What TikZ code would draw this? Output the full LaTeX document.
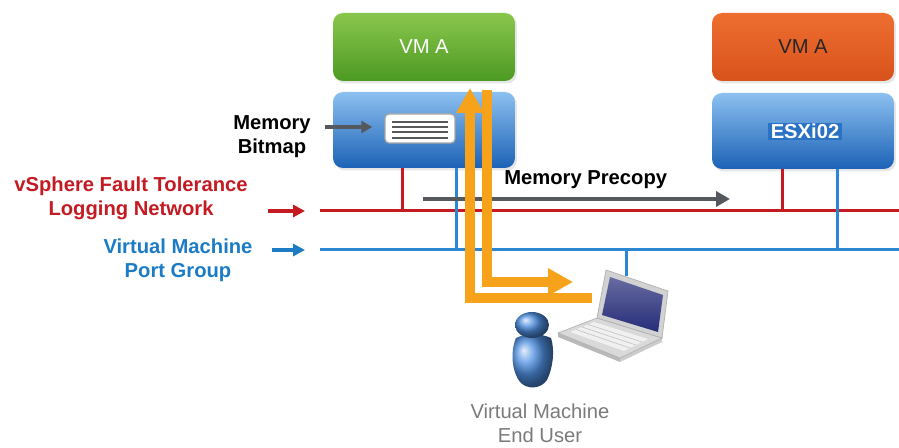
\documentclass[tikz,border=0pt]{standalone}
\usepackage{fontspec}
\setmainfont{Liberation Sans}
\usetikzlibrary{arrows.meta,positioning,calc,shadows}
\definecolor{ftred}{HTML}{C41A22}
\definecolor{pgblue}{HTML}{1B7BC4}
\definecolor{netblue}{HTML}{2B87D1}
\definecolor{greenlt}{HTML}{8AC64E}
\definecolor{greendk}{HTML}{4C9A22}
\definecolor{orangelt}{HTML}{EE6E30}
\definecolor{orangedk}{HTML}{D8521C}
\definecolor{hostlt}{HTML}{8CC0F0}
\definecolor{hostmid}{HTML}{3A86D6}
\definecolor{hostdk}{HTML}{1C62B6}
\definecolor{esxbg}{HTML}{2A72C4}
\definecolor{flow}{HTML}{F7A21B}
\definecolor{darkgray}{HTML}{55585C}
\definecolor{usergray}{HTML}{7A7A7A}
\definecolor{personblue}{HTML}{4F90E2}
\definecolor{screenblue}{HTML}{262C78}

\begin{document}
\begin{tikzpicture}[
  x=0.02cm,y=-0.02cm,
  every node/.style={font=\fontsize{11.5}{13.6}\selectfont},
  vmbox/.style={rounded corners=0.2cm,minimum width=3.64cm,minimum height=1.36cm,
    drop shadow={opacity=0.2,shadow xshift=0.04cm,shadow yshift=-0.05cm}},
  hostbox/.style={rounded corners=0.2cm,minimum width=3.64cm,minimum height=1.52cm,
    top color=hostlt,middle color=hostmid,bottom color=hostdk,
    drop shadow={opacity=0.2,shadow xshift=0.04cm,shadow yshift=-0.05cm}},
  bitmapbox/.style={draw=gray!70,fill=white,rounded corners=0.08cm,line width=0.8pt,
    minimum width=1.4cm,minimum height=0.58cm},
  bitline/.style={gray!70!black,line width=1.5pt},
  ftnet/.style={ftred,line width=0.06cm},
  pgnet/.style={netblue,line width=0.06cm},
  netarr/.style={-{Triangle[length=0.24cm,width=0.24cm]},line width=0.08cm,shorten >=0.3cm},
  grayarr/.style={darkgray,-{Triangle[length=0.28cm,width=0.3cm]},line width=0.09cm},
  flowarr/.style={flow,-{Triangle[length=0.5cm,width=0.52cm]},line width=0.2cm},
  lbl/.style={font=\fontsize{11.5}{13.6}\selectfont\bfseries,align=center}
]
\useasboundingbox (0,0) rectangle (899,448);

% virtual machines and hosts
\node[vmbox,top color=greenlt,bottom color=greendk,text=white] (vma) at (424,47) {VM A};
\node[hostbox] (hosta) at (424,130) {};
\node[vmbox,top color=orangelt,bottom color=orangedk,text=black!85] (vmb) at (803,47) {VM A};
\node[hostbox] (hostb) at (803,131) {};
\node[lbl,text=white,fill=esxbg,minimum width=1.48cm,minimum height=0.34cm,inner sep=0pt] (esx) at (805,131.5) {ESXi02};

% memory bitmap icon
\node[bitmapbox] (bitmap) at (420,128.5) {};
\foreach \dy in {-6.5,-1.5,3.5,9.5}
  \draw[bitline] ($(bitmap.center)+(-28,\dy)$) -- ++(56,0);
\node[lbl] (bitlab) at (272,137) {Memory\\Bitmap};
\coordinate (bitin) at (325,127);
\draw[grayarr,line width=0.07cm,-{Triangle[length=0.22cm,width=0.24cm]}] (bitin) -- ([xshift=-0.24cm]bitmap.west |- bitin);

% networks
\coordinate (ftw) at (320,211);
\coordinate (fte) at (899,211);
\coordinate (pgw) at (320,250);
\coordinate (pge) at (899,250);
\coordinate (fta) at (402,211);
\coordinate (ftb) at (782,211);
\coordinate (pga) at (456,250);
\coordinate (pgb) at (837,250);
\coordinate (pgu) at (626,250);
\coordinate (laptop) at (626,276);
\draw[ftnet] (ftw) -- (fte);
\draw[pgnet] (pgw) -- (pge);
\draw[ftnet] (hosta.south -| fta) -- (fta);
\draw[ftnet] (hostb.south -| ftb) -- (ftb);
\draw[pgnet] (hosta.south -| pga) -- (pga);
\draw[pgnet] (hostb.south -| pgb) -- (pgb);
\draw[pgnet] (pgu) -- (laptop);

% network labels
\node[lbl,text=ftred] (ftlab) at (131,198) {vSphere Fault Tolerance\\Logging Network};
\node[lbl,text=pgblue] (pglab) at (178,260) {Virtual Machine\\Port Group};
\coordinate (ftin) at (268,211);
\coordinate (pgin) at (272,250);
\draw[netarr,ftred] (ftin) -- (ftw);
\draw[netarr,pgblue] (pgin) -- (pgw);

% memory precopy
\coordinate (pcs) at (423,199);
\coordinate (pce) at (730,199);
\draw[grayarr] (pcs) -- node[lbl,above=1pt,pos=0.53,text=black] (pclab) {Memory Precopy} (pce);

% client traffic
\coordinate (vmain) at (470,88);
\coordinate (vmaout) at (487,90);
\coordinate (userin) at (592,298);
\coordinate (userout) at (573,282);
\draw[flowarr] (userin) -| (vmain);
\draw[flowarr] (vmaout) |- (userout);

% laptop
\fill[gray!55] (558,333) -- (620,358) -- (620,362) -- (558,337) -- cycle;
\fill[gray!40] (620,358) -- (662,338) -- (662,342) -- (620,362) -- cycle;
\draw[gray!60,fill=gray!30] (597,318) -- (662,338) -- (620,358) -- (558,333) -- cycle;
\fill[gray!12] (594,322) -- (648,339) -- (624,351) -- (570,332) -- cycle;
\foreach \t in {0.25,0.5,0.75}
  \draw[gray!45,line width=0.4pt] ($(594,322)!\t!(570,332)$) -- ($(648,339)!\t!(624,351)$);
\draw[gray!60,fill=gray!35] (606,270) -- (668,291) -- (662,338) -- (597,318) -- cycle;
\shade[top color=screenblue!70!white,bottom color=screenblue] (610,277) -- (663,295) -- (658,332) -- (602,315) -- cycle;

% end user
\shade[ball color=personblue] (516,338) .. controls (510,352) and (512,372) .. (520,382)
  .. controls (527,390) and (541,389) .. (547,380) .. controls (553,368) and (555,350) .. (551,338)
  .. controls (540,333) and (526,333) .. cycle;
\shade[ball color=personblue] (532,325) ellipse [x radius=0.34cm,y radius=0.26cm];
\node[align=center,text=usergray] (userlab) at (540,423) {Virtual Machine\\End User};
\end{tikzpicture}
\end{document}
